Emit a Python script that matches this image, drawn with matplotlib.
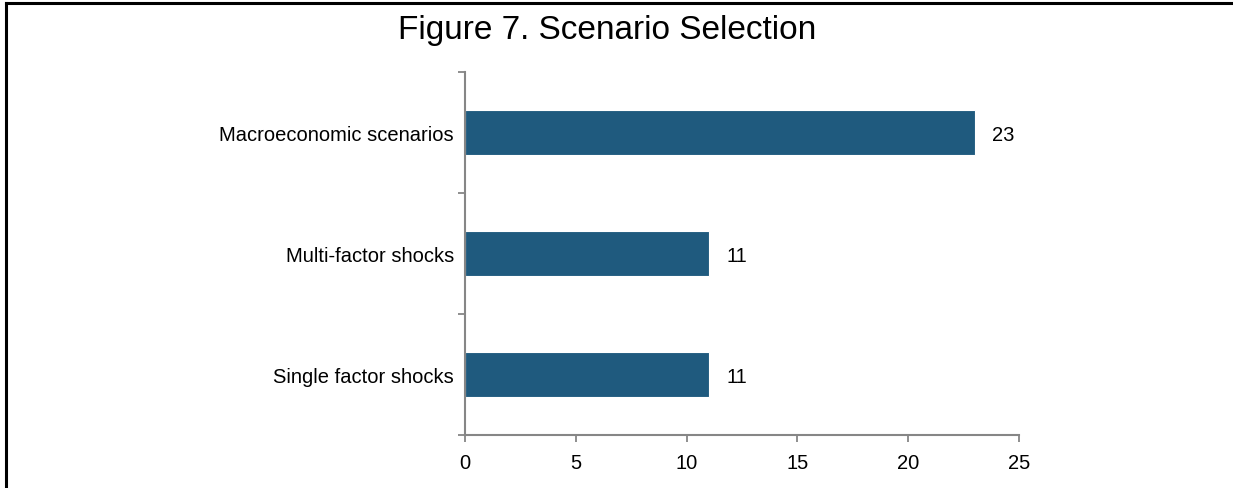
import matplotlib.pyplot as plt
from matplotlib.lines import Line2D

plt.rcParams['font.family'] = ['Liberation Sans', 'DejaVu Sans']

# -------- DATA --------
categories = ["Single factor shocks", "Multi-factor shocks", "Macroeconomic scenarios"]
counts = [11, 11, 23]
xticks = [0, 5, 10, 15, 20, 25]

bar_color = "#1F5A7E"
axis_color = "#868686"

fig = plt.figure(figsize=(12.33, 4.89), dpi=100)
ax = fig.add_axes([0.3771, 0.1084, 0.4494, 0.7423])

ypos = range(len(categories))
ax.barh(ypos, counts, height=0.38, color=bar_color, edgecolor="white", linewidth=0.8)

# value labels to the right of each bar
for y, v in zip(ypos, counts):
    ax.text(v + 0.8, y, str(v), va="center_baseline", ha="left", fontsize=14.5)

ax.set_xlim(0, 25)
ax.set_ylim(-0.5, len(categories) - 0.5)
ax.set_xticks(xticks)
ax.set_xticklabels([str(t) for t in xticks], fontsize=14.5)

ax.set_yticks(list(ypos))
ax.set_yticklabels(categories, fontsize=14.5)
ax.tick_params(axis="y", which="major", length=0, pad=8)
ax.set_yticks([-0.5, 0.5, 1.5, 2.5], minor=True)
ax.tick_params(axis="y", which="minor", length=5, width=1.3, color=axis_color, direction="out")
ax.tick_params(axis="x", length=5, width=1.3, color=axis_color, direction="out", pad=8)

for s in ["top", "right"]:
    ax.spines[s].set_visible(False)
for s in ["left", "bottom"]:
    ax.spines[s].set_color(axis_color)
    ax.spines[s].set_linewidth(1.5)

fig.text(0.492, 0.937, "Figure 7. Scenario Selection", ha="center", va="center", fontsize=24)

# -------- FRAME (top and left edges) --------
fig.add_artist(Line2D([0.0045, 1.0], [0.9908, 0.9908], transform=fig.transFigure, color="black", linewidth=2.2))
fig.add_artist(Line2D([0.0045, 0.0045], [0.0, 0.9908], transform=fig.transFigure, color="black", linewidth=2.2))

fig.savefig("out.png", dpi=100)
